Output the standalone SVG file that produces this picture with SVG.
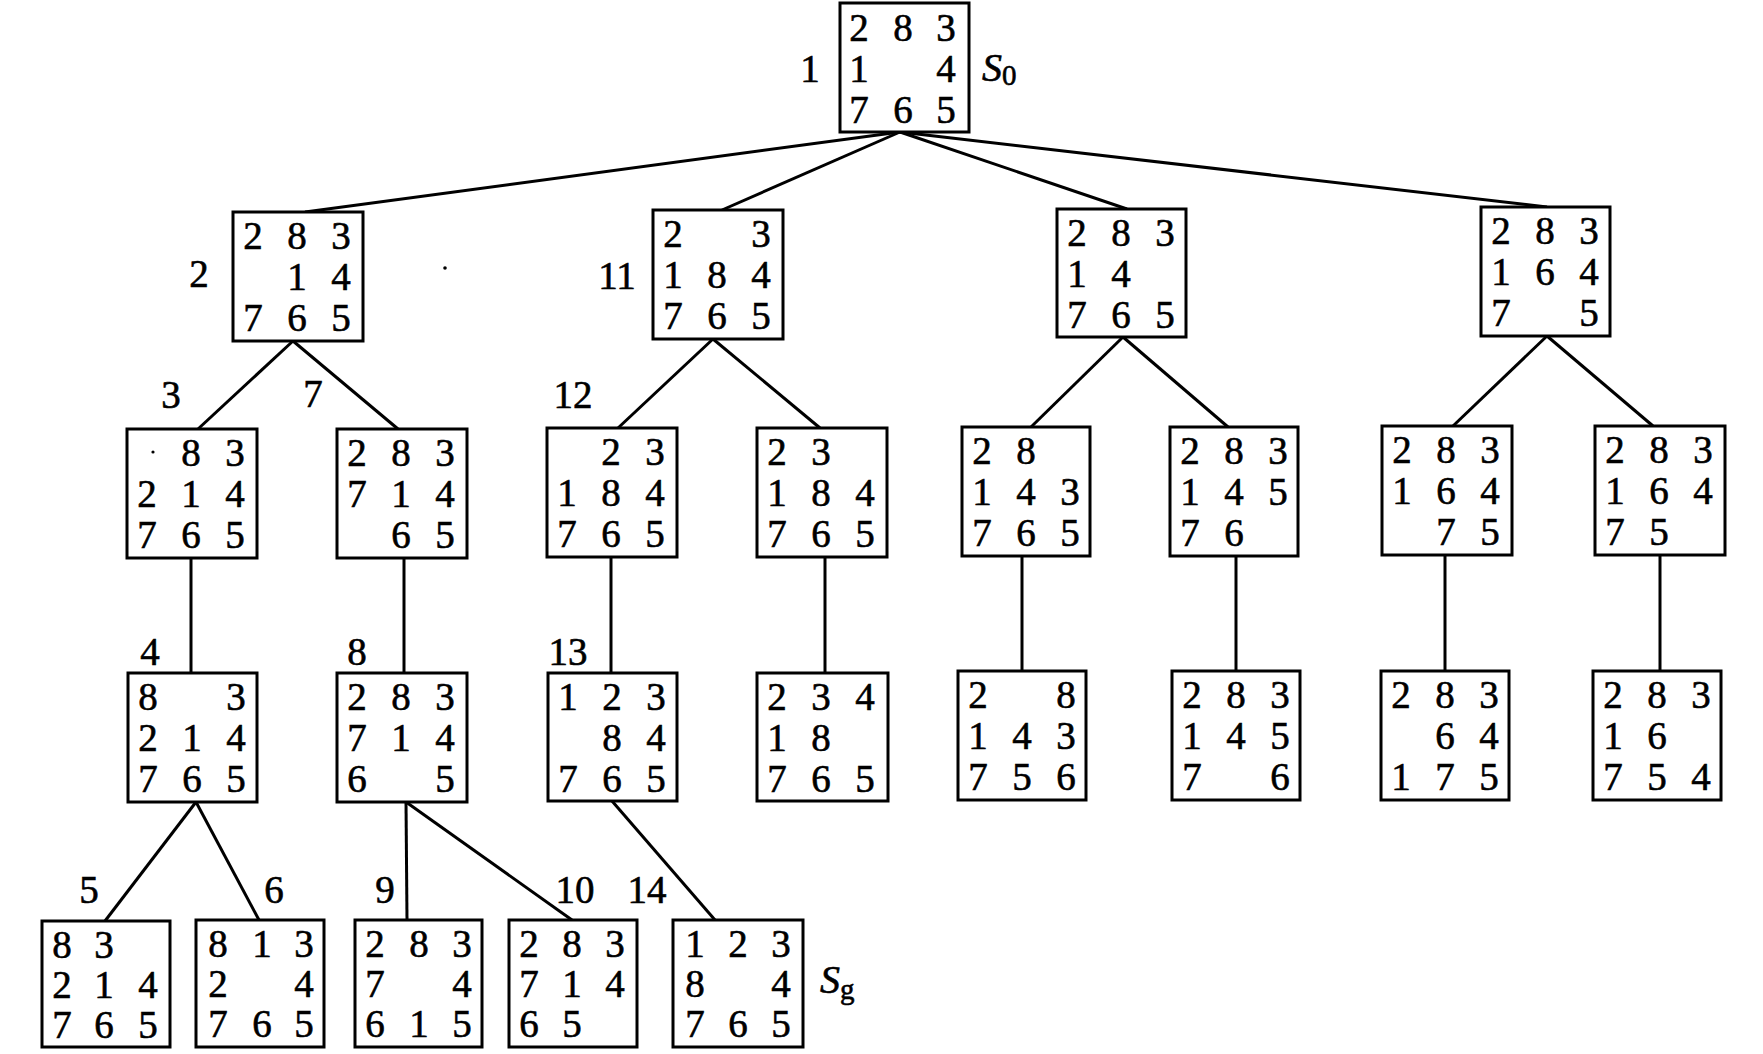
<svg xmlns="http://www.w3.org/2000/svg" width="1763" height="1054" viewBox="0 0 1763 1054">
<style>
  rect.b { fill: #fff; stroke: #000; stroke-width: 3; }
  .c line { stroke: #000; stroke-width: 3; }
  text { font-family: "Liberation Serif", "Times New Roman", serif; fill: #000; stroke: #000; stroke-width: 0.6; }
  text.d { font-size: 39px; text-anchor: middle; }
  text.l { font-size: 39px; text-anchor: middle; }
  text.s { font-size: 40px; font-style: italic; }
  tspan.sub { font-size: 29px; font-style: normal; }
</style>
<rect width="1763" height="1054" fill="#fff"/>
<g class="c" id="connectors">
  <line x1="900" y1="132" x2="305" y2="212"/>
  <line x1="900" y1="132" x2="722" y2="210"/>
  <line x1="900" y1="132" x2="1127" y2="209"/>
  <line x1="900" y1="132" x2="1547" y2="207"/>
  <line x1="293" y1="341" x2="198" y2="429"/>
  <line x1="293" y1="341" x2="398" y2="429"/>
  <line x1="713" y1="339" x2="618" y2="428"/>
  <line x1="713" y1="339" x2="820" y2="428"/>
  <line x1="1123" y1="337" x2="1031" y2="427"/>
  <line x1="1123" y1="337" x2="1228" y2="427"/>
  <line x1="1547" y1="336" x2="1453" y2="426"/>
  <line x1="1547" y1="336" x2="1653" y2="426"/>
  <line x1="191" y1="558" x2="191" y2="673"/>
  <line x1="404" y1="558" x2="404" y2="673"/>
  <line x1="611" y1="557" x2="611" y2="673"/>
  <line x1="825" y1="557" x2="825" y2="673"/>
  <line x1="1022" y1="556" x2="1022" y2="671"/>
  <line x1="1236" y1="556" x2="1236" y2="671"/>
  <line x1="1445" y1="555" x2="1445" y2="671"/>
  <line x1="1660" y1="555" x2="1660" y2="671"/>
  <line x1="196" y1="802" x2="105" y2="921"/>
  <line x1="196" y1="802" x2="259" y2="920"/>
  <line x1="406" y1="802" x2="407" y2="920"/>
  <line x1="406" y1="802" x2="572" y2="920"/>
  <line x1="612" y1="801" x2="715" y2="920"/>
</g>

<g id="n1" transform="translate(840,3)">
  <rect class="b" width="129" height="129"/>
  <text class="d" x="19" y="38">2</text><text class="d" x="63" y="38">8</text><text class="d" x="106" y="38">3</text>
  <text class="d" x="19" y="79">1</text><text class="d" x="106" y="79">4</text>
  <text class="d" x="19" y="120">7</text><text class="d" x="63" y="120">6</text><text class="d" x="106" y="120">5</text>
</g>
<text class="l" x="810" y="82">1</text>
<text class="s" x="982" y="81">S<tspan class="sub" dy="4">0</tspan></text>

<g id="n2" transform="translate(233,212)">
  <rect class="b" width="130" height="129"/>
  <text class="d" x="20" y="37">2</text><text class="d" x="64" y="37">8</text><text class="d" x="108" y="37">3</text>
  <text class="d" x="64" y="78">1</text><text class="d" x="108" y="78">4</text>
  <text class="d" x="20" y="119">7</text><text class="d" x="64" y="119">6</text><text class="d" x="108" y="119">5</text>
</g>
<text class="l" x="199" y="287">2</text>
<circle cx="445" cy="268" r="1.8" fill="#000"/>

<g id="n11" transform="translate(653,210)">
  <rect class="b" width="130" height="129"/>
  <text class="d" x="20" y="37">2</text><text class="d" x="108" y="37">3</text>
  <text class="d" x="20" y="78">1</text><text class="d" x="64" y="78">8</text><text class="d" x="108" y="78">4</text>
  <text class="d" x="20" y="119">7</text><text class="d" x="64" y="119">6</text><text class="d" x="108" y="119">5</text>
</g>
<text class="l" x="617" y="289">11</text>

<g id="n2c" transform="translate(1057,209)">
  <rect class="b" width="129" height="128"/>
  <text class="d" x="20" y="37">2</text><text class="d" x="64" y="37">8</text><text class="d" x="108" y="37">3</text>
  <text class="d" x="20" y="78">1</text><text class="d" x="64" y="78">4</text>
  <text class="d" x="20" y="119">7</text><text class="d" x="64" y="119">6</text><text class="d" x="108" y="119">5</text>
</g>

<g id="n2d" transform="translate(1481,207)">
  <rect class="b" width="129" height="129"/>
  <text class="d" x="20" y="37">2</text><text class="d" x="64" y="37">8</text><text class="d" x="108" y="37">3</text>
  <text class="d" x="20" y="78">1</text><text class="d" x="64" y="78">6</text><text class="d" x="108" y="78">4</text>
  <text class="d" x="20" y="119">7</text><text class="d" x="108" y="119">5</text>
</g>

<g id="n3" transform="translate(127,429)">
  <rect class="b" width="130" height="129"/>
  <text class="d" x="64" y="37">8</text><text class="d" x="108" y="37">3</text>
  <text class="d" x="20" y="78">2</text><text class="d" x="64" y="78">1</text><text class="d" x="108" y="78">4</text>
  <text class="d" x="20" y="119">7</text><text class="d" x="64" y="119">6</text><text class="d" x="108" y="119">5</text>
  <circle cx="26" cy="23" r="1.6" fill="#000"/>
</g>
<text class="l" x="171" y="408">3</text>

<g id="n7" transform="translate(337,429)">
  <rect class="b" width="130" height="129"/>
  <text class="d" x="20" y="37">2</text><text class="d" x="64" y="37">8</text><text class="d" x="108" y="37">3</text>
  <text class="d" x="20" y="78">7</text><text class="d" x="64" y="78">1</text><text class="d" x="108" y="78">4</text>
  <text class="d" x="64" y="119">6</text><text class="d" x="108" y="119">5</text>
</g>
<text class="l" x="313" y="407">7</text>

<g id="n12" transform="translate(547,428)">
  <rect class="b" width="130" height="129"/>
  <text class="d" x="64" y="37">2</text><text class="d" x="108" y="37">3</text>
  <text class="d" x="20" y="78">1</text><text class="d" x="64" y="78">8</text><text class="d" x="108" y="78">4</text>
  <text class="d" x="20" y="119">7</text><text class="d" x="64" y="119">6</text><text class="d" x="108" y="119">5</text>
</g>
<text class="l" x="573" y="408">12</text>

<g id="n3b" transform="translate(757,428)">
  <rect class="b" width="130" height="129"/>
  <text class="d" x="20" y="37">2</text><text class="d" x="64" y="37">3</text>
  <text class="d" x="20" y="78">1</text><text class="d" x="64" y="78">8</text><text class="d" x="108" y="78">4</text>
  <text class="d" x="20" y="119">7</text><text class="d" x="64" y="119">6</text><text class="d" x="108" y="119">5</text>
</g>

<g id="n3c" transform="translate(962,427)">
  <rect class="b" width="128" height="129"/>
  <text class="d" x="20" y="37">2</text><text class="d" x="64" y="37">8</text>
  <text class="d" x="20" y="78">1</text><text class="d" x="64" y="78">4</text><text class="d" x="108" y="78">3</text>
  <text class="d" x="20" y="119">7</text><text class="d" x="64" y="119">6</text><text class="d" x="108" y="119">5</text>
</g>

<g id="n3d" transform="translate(1170,427)">
  <rect class="b" width="128" height="129"/>
  <text class="d" x="20" y="37">2</text><text class="d" x="64" y="37">8</text><text class="d" x="108" y="37">3</text>
  <text class="d" x="20" y="78">1</text><text class="d" x="64" y="78">4</text><text class="d" x="108" y="78">5</text>
  <text class="d" x="20" y="119">7</text><text class="d" x="64" y="119">6</text>
</g>

<g id="n3e" transform="translate(1382,426)">
  <rect class="b" width="130" height="129"/>
  <text class="d" x="20" y="37">2</text><text class="d" x="64" y="37">8</text><text class="d" x="108" y="37">3</text>
  <text class="d" x="20" y="78">1</text><text class="d" x="64" y="78">6</text><text class="d" x="108" y="78">4</text>
  <text class="d" x="64" y="119">7</text><text class="d" x="108" y="119">5</text>
</g>

<g id="n3f" transform="translate(1595,426)">
  <rect class="b" width="130" height="129"/>
  <text class="d" x="20" y="37">2</text><text class="d" x="64" y="37">8</text><text class="d" x="108" y="37">3</text>
  <text class="d" x="20" y="78">1</text><text class="d" x="64" y="78">6</text><text class="d" x="108" y="78">4</text>
  <text class="d" x="20" y="119">7</text><text class="d" x="64" y="119">5</text>
</g>

<g id="n4" transform="translate(128,673)">
  <rect class="b" width="129" height="129"/>
  <text class="d" x="20" y="37">8</text><text class="d" x="108" y="37">3</text>
  <text class="d" x="20" y="78">2</text><text class="d" x="64" y="78">1</text><text class="d" x="108" y="78">4</text>
  <text class="d" x="20" y="119">7</text><text class="d" x="64" y="119">6</text><text class="d" x="108" y="119">5</text>
</g>
<text class="l" x="150" y="665">4</text>

<g id="n8" transform="translate(337,673)">
  <rect class="b" width="130" height="129"/>
  <text class="d" x="20" y="37">2</text><text class="d" x="64" y="37">8</text><text class="d" x="108" y="37">3</text>
  <text class="d" x="20" y="78">7</text><text class="d" x="64" y="78">1</text><text class="d" x="108" y="78">4</text>
  <text class="d" x="20" y="119">6</text><text class="d" x="108" y="119">5</text>
</g>
<text class="l" x="357" y="665">8</text>

<g id="n13" transform="translate(548,673)">
  <rect class="b" width="129" height="128"/>
  <text class="d" x="20" y="37">1</text><text class="d" x="64" y="37">2</text><text class="d" x="108" y="37">3</text>
  <text class="d" x="64" y="78">8</text><text class="d" x="108" y="78">4</text>
  <text class="d" x="20" y="119">7</text><text class="d" x="64" y="119">6</text><text class="d" x="108" y="119">5</text>
</g>
<text class="l" x="568" y="665">13</text>

<g id="n4b" transform="translate(757,673)">
  <rect class="b" width="131" height="128"/>
  <text class="d" x="20" y="37">2</text><text class="d" x="64" y="37">3</text><text class="d" x="108" y="37">4</text>
  <text class="d" x="20" y="78">1</text><text class="d" x="64" y="78">8</text>
  <text class="d" x="20" y="119">7</text><text class="d" x="64" y="119">6</text><text class="d" x="108" y="119">5</text>
</g>

<g id="n4c" transform="translate(958,671)">
  <rect class="b" width="128" height="129"/>
  <text class="d" x="20" y="37">2</text><text class="d" x="108" y="37">8</text>
  <text class="d" x="20" y="78">1</text><text class="d" x="64" y="78">4</text><text class="d" x="108" y="78">3</text>
  <text class="d" x="20" y="119">7</text><text class="d" x="64" y="119">5</text><text class="d" x="108" y="119">6</text>
</g>

<g id="n4d" transform="translate(1172,671)">
  <rect class="b" width="128" height="129"/>
  <text class="d" x="20" y="37">2</text><text class="d" x="64" y="37">8</text><text class="d" x="108" y="37">3</text>
  <text class="d" x="20" y="78">1</text><text class="d" x="64" y="78">4</text><text class="d" x="108" y="78">5</text>
  <text class="d" x="20" y="119">7</text><text class="d" x="108" y="119">6</text>
</g>

<g id="n4e" transform="translate(1381,671)">
  <rect class="b" width="128" height="129"/>
  <text class="d" x="20" y="37">2</text><text class="d" x="64" y="37">8</text><text class="d" x="108" y="37">3</text>
  <text class="d" x="64" y="78">6</text><text class="d" x="108" y="78">4</text>
  <text class="d" x="20" y="119">1</text><text class="d" x="64" y="119">7</text><text class="d" x="108" y="119">5</text>
</g>

<g id="n4f" transform="translate(1593,671)">
  <rect class="b" width="128" height="129"/>
  <text class="d" x="20" y="37">2</text><text class="d" x="64" y="37">8</text><text class="d" x="108" y="37">3</text>
  <text class="d" x="20" y="78">1</text><text class="d" x="64" y="78">6</text>
  <text class="d" x="20" y="119">7</text><text class="d" x="64" y="119">5</text><text class="d" x="108" y="119">4</text>
</g>

<g id="n5" transform="translate(42,921)">
  <rect class="b" width="128" height="126"/>
  <text class="d" x="20" y="37">8</text><text class="d" x="62" y="37">3</text>
  <text class="d" x="20" y="77">2</text><text class="d" x="62" y="77">1</text><text class="d" x="106" y="77">4</text>
  <text class="d" x="20" y="117">7</text><text class="d" x="62" y="117">6</text><text class="d" x="106" y="117">5</text>
</g>
<text class="l" x="89" y="903">5</text>

<g id="n6" transform="translate(196,920)">
  <rect class="b" width="128" height="127"/>
  <text class="d" x="22" y="37">8</text><text class="d" x="66" y="37">1</text><text class="d" x="108" y="37">3</text>
  <text class="d" x="22" y="77">2</text><text class="d" x="108" y="77">4</text>
  <text class="d" x="22" y="117">7</text><text class="d" x="66" y="117">6</text><text class="d" x="108" y="117">5</text>
</g>
<text class="l" x="274" y="903">6</text>

<g id="n9" transform="translate(355,920)">
  <rect class="b" width="127" height="127"/>
  <text class="d" x="20" y="37">2</text><text class="d" x="64" y="37">8</text><text class="d" x="107" y="37">3</text>
  <text class="d" x="20" y="77">7</text><text class="d" x="107" y="77">4</text>
  <text class="d" x="20" y="117">6</text><text class="d" x="64" y="117">1</text><text class="d" x="107" y="117">5</text>
</g>
<text class="l" x="385" y="903">9</text>

<g id="n10" transform="translate(509,920)">
  <rect class="b" width="128" height="127"/>
  <text class="d" x="20" y="37">2</text><text class="d" x="63" y="37">8</text><text class="d" x="106" y="37">3</text>
  <text class="d" x="20" y="77">7</text><text class="d" x="63" y="77">1</text><text class="d" x="106" y="77">4</text>
  <text class="d" x="20" y="117">6</text><text class="d" x="63" y="117">5</text>
</g>
<text class="l" x="575" y="903">10</text>

<g id="n14" transform="translate(673,920)">
  <rect class="b" width="130" height="127"/>
  <text class="d" x="22" y="37">1</text><text class="d" x="65" y="37">2</text><text class="d" x="108" y="37">3</text>
  <text class="d" x="22" y="77">8</text><text class="d" x="108" y="77">4</text>
  <text class="d" x="22" y="117">7</text><text class="d" x="65" y="117">6</text><text class="d" x="108" y="117">5</text>
</g>
<text class="l" x="647" y="903">14</text>
<text class="s" x="820" y="993">S<tspan class="sub" dy="6">g</tspan></text>
</svg>
